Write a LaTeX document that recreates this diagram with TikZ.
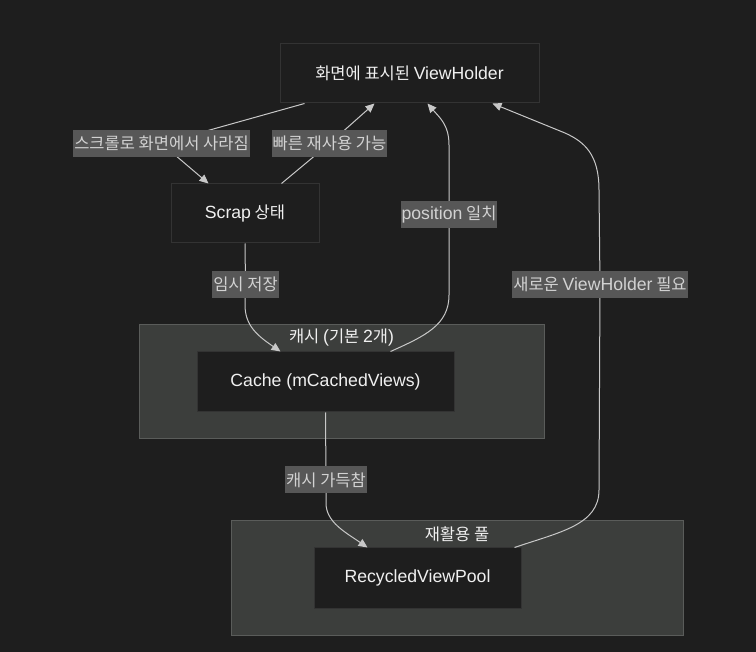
\documentclass[tikz,border=0pt]{standalone}
\usepackage{fontspec}
\setmainfont{Noto Sans CJK KR}
\newfontfamily\lat[Scale=1.07]{Liberation Sans}
\usetikzlibrary{arrows.meta,calc}
\definecolor{bg}{HTML}{1E1E1E}
\definecolor{nodefill}{HTML}{1E1E1E}
\definecolor{nodeline}{HTML}{333333}
\definecolor{clfill}{HTML}{3C3E3C}
\definecolor{clline}{HTML}{5A5C5A}
\definecolor{lblfill}{HTML}{575757}
\definecolor{lbltext}{HTML}{D2D2D2}
\definecolor{edgecol}{HTML}{C8C8C8}
\definecolor{nodetext}{HTML}{F0F0F0}
\tikzset{
  box/.style={draw=nodeline, line width=1pt, fill=nodefill, text=nodetext,
    font=\fontsize{16.5}{19}\selectfont, inner sep=0pt},
  cluster/.style={draw=clline, line width=1pt, fill=clfill},
  cltitle/.style={text=nodetext, font=\fontsize{16.5}{19}\selectfont, inner sep=0pt},
  lbl/.style={fill=lblfill, text=lbltext, font=\fontsize{16.5}{19}\selectfont,
    inner xsep=1pt, inner ysep=0pt, minimum height=27pt},
  edge/.style={draw=edgecol, line width=1pt, -{Triangle[length=9pt,width=8pt]}},
}
\begin{document}
\begin{tikzpicture}[x=1pt,y=-1pt]
\fill[bg] (0,0) rectangle (756,652);
\useasboundingbox (0,0) rectangle (756,652);

% clusters
\draw[cluster] (139,325) rectangle (544,439);
\node[cltitle] (cltcache) at (341.5,338) {캐시 {\lat(}기본 {\lat 2}개{\lat)}};
\draw[cluster] (231,521) rectangle (683,635);
\node[cltitle] (cltpool) at (457,534) {재활용 풀};

% nodes
\node[box, minimum width=259pt, minimum height=59pt] (top) at (409.5,73.5) {화면에 표시된 {\lat ViewHolder}};
\node[box, minimum width=148pt, minimum height=59pt] (scrap) at (245,213.5) {{\lat Scrap} 상태};
\node[box, minimum width=257pt, minimum height=60pt] (cache) at (325.5,382) {\lat Cache (mCachedViews)};
\node[box, minimum width=207pt, minimum height=60pt] (pool) at (417.5,578) {\lat RecycledViewPool};

% anchor points
\coordinate (t1) at ($(top.south west)+(25,0)$);
\coordinate (t2) at ($(top.south west)+(95,0)$);
\coordinate (t3) at ($(top.south west)+(148,0)$);
\coordinate (t4) at ($(top.south west)+(213,0)$);
\coordinate (s1) at ($(scrap.north west)+(38,0)$);
\coordinate (s2) at ($(scrap.north west)+(111,0)$);
\coordinate (c1) at ($(cache.north west)+(84,0)$);
\coordinate (c2) at ($(cache.north west)+(194,0)$);
\coordinate (p1) at ($(pool.north west)+(54,0)$);
\coordinate (p2) at ($(pool.north west)+(201,0)$);

% label positions
\coordinate (l1) at (161.5,143.5);
\coordinate (l2) at (329.5,143.5);
\coordinate (l3) at (449,214.5);
\coordinate (l4) at (245.5,284.5);
\coordinate (l5) at (326,480);
\coordinate (l6) at (600,284.5);

% edges
\draw[edge] (t1) -- (l1) -- (s1);
\draw[edge] (s2) -- (l2) -- (t2);
\draw[edge] (c2) .. controls (425,336) and (449,325) .. (449,295) -- (l3) -- (449,145) .. controls (449,125) and (440,118) .. (t3);
\draw[edge] (scrap.south) -- (l4) -- (245,305) .. controls (245,326) and (258,336) .. (c1);
\draw[edge] (cache.south) -- (l5) -- (326,503) .. controls (326,522) and (345,532) .. (p1);
\draw[edge] (p2) .. controls (560,532) and (599,525) .. (599,490) -- (l6) -- (599,190) .. controls (599,155) and (585,142) .. (565,133) -- (t4);

% edge labels
\node[lbl] (e1) at (l1) {스크롤로 화면에서 사라짐};
\node[lbl] (e2) at (l2) {빠른 재사용 가능};
\node[lbl] (e3) at (l3) {{\lat position} 일치};
\node[lbl] (e4) at (l4) {임시 저장};
\node[lbl] (e5) at (l5) {캐시 가득참};
\node[lbl] (e6) at (l6) {새로운 {\lat ViewHolder} 필요};
\end{tikzpicture}
\end{document}
